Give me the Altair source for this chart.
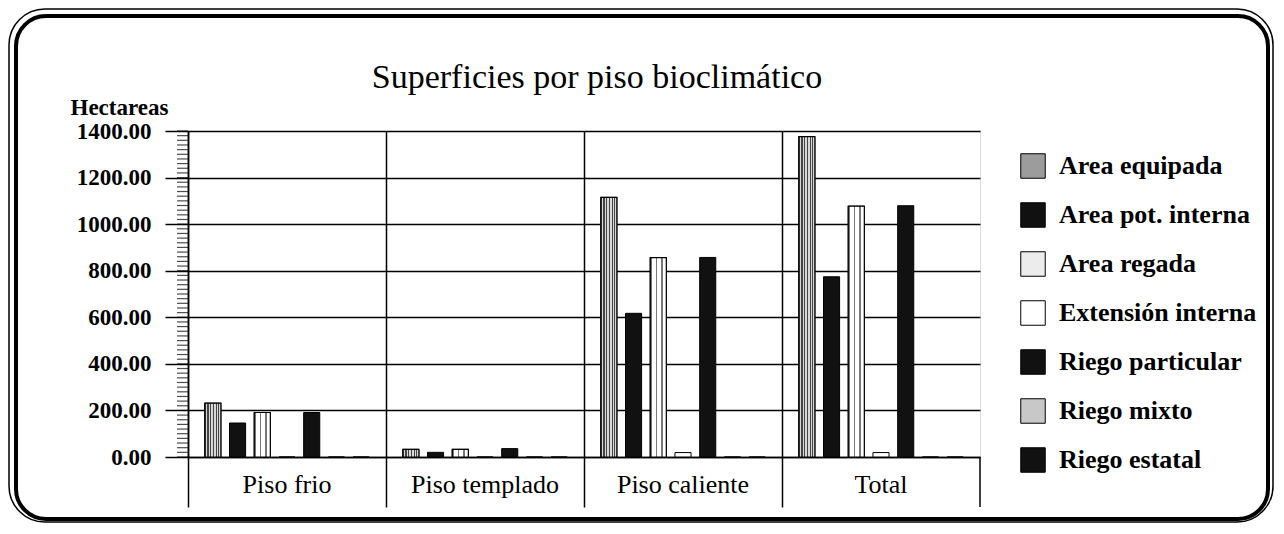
import altair as alt
import pandas as pd

# ---------------- data ----------------
grupos = ["Piso frio", "Piso templado", "Piso caliente", "Total"]
series = ["Area equipada", "Area pot. interna", "Area regada", "Extensión interna",
          "Riego particular", "Riego mixto", "Riego estatal"]
area_equipada = [231, 33, 1115, 1376]
area_pot_interna = [146, 20, 617, 774]
area_regada = [191, 33, 856, 1077]
extension_interna = [0, 0, 19, 19]
riego_particular = [191, 36, 857, 1079]
riego_mixto = [0, 0, 0, 0]
riego_estatal = [0, 0, 0, 0]
y_ticks = [0, 200, 400, 600, 800, 1000, 1200, 1400]
minor_ticks = list(range(0, 1401, 20))
fills = ["#9c9c9c", "#111111", "#ececec", "#ffffff", "#111111", "#c8c8c8", "#111111"]
titulo = "Superficies por piso bioclimático"

valores = [area_equipada, area_pot_interna, area_regada, extension_interna,
           riego_particular, riego_mixto, riego_estatal]
rows = []
for s, vals in zip(series, valores):
    for g, v in zip(grupos, vals):
        rows.append({"grupo": g, "serie": s, "valor": v})
df = pd.DataFrame(rows)

FONT = "Liberation Serif"
W, H = 792, 326

x_enc = alt.X("grupo:N", sort=grupos,
              scale=alt.Scale(paddingInner=0, paddingOuter=0),
              axis=alt.Axis(title=None, bandPosition=0, grid=True, gridColor="black",
                            gridWidth=1.5, gridOpacity=1, ticks=True, tickSize=50,
                            tickColor="black", tickWidth=1.5,
                            labelPadding=-36, labelAngle=0, labelFont=FONT,
                            labelFontSize=26, labelColor="black", domainColor="black",
                            domainWidth=1.5))
xo_enc = alt.XOffset("serie:N", sort=series,
                     scale=alt.Scale(domain=series, paddingInner=0.35, paddingOuter=0.68))
y_axis = alt.Axis(title="Hectareas", titleAngle=0, titleX=-118, titleY=-17,
                  titleAlign="left", titleBaseline="alphabetic", titleFont=FONT,
                  titleFontSize=23, titleFontWeight="bold", titleColor="black",
                  format=".2f", values=y_ticks, tickSize=23, tickWidth=1.5,
                  tickColor="black", labelPadding=14, labelFont=FONT,
                  labelFontSize=23, labelFontWeight="bold", labelColor="black",
                  grid=True, gridColor="black", gridWidth=1.3, gridOpacity=1,
                  domainColor="black", domainWidth=1.5)
y_enc = alt.Y("valor:Q", scale=alt.Scale(domain=[0, 1400], nice=False), axis=y_axis)

base = alt.Chart(df)

bars = base.mark_bar(stroke="black", strokeWidth=1).encode(
    x=x_enc, xOffset=xo_enc, y=y_enc,
    fill=alt.Fill("serie:N", sort=series,
                  scale=alt.Scale(domain=series, range=fills),
                  legend=alt.Legend(title=None, orient="none", legendX=832, legendY=22,
                                    symbolType="square", symbolSize=600,
                                    symbolStrokeColor="black", symbolStrokeWidth=1,
                                    symbolOpacity=1, labelFont=FONT, labelFontSize=26,
                                    labelFontWeight="bold", labelColor="black",
                                    labelOffset=13, rowPadding=19, labelLimit=300)),
)


def stripes(dark, light, n, width_frac):
    stops = []
    for i in range(n):
        a = i / n
        b = a + width_frac / n
        stops += [{"offset": a, "color": light}, {"offset": a, "color": dark},
                  {"offset": b, "color": dark}, {"offset": b, "color": light}]
    stops.append({"offset": 1, "color": light})
    return {"gradient": "linear", "x1": 0, "x2": 1, "y1": 0, "y2": 0, "stops": stops}


equip_overlay = base.transform_filter(alt.datum.serie == "Area equipada").mark_bar(
    fill=stripes("#444444", "#d8d8d8", 6, 0.45), stroke="black", strokeWidth=1.2
).encode(x=x_enc, xOffset=xo_enc, y=y_enc)

regada_overlay = base.transform_filter(alt.datum.serie == "Area regada").mark_bar(
    fill=stripes("#777777", "#ffffff", 3, 0.3), stroke="black", strokeWidth=1.2
).encode(x=x_enc, xOffset=xo_enc, y=y_enc)

minor = alt.Chart(pd.DataFrame({"valor": minor_ticks})).mark_tick(
    orient="horizontal", size=11, thickness=1.2, color="black"
).encode(x=alt.value(-5.5), y=y_enc)

one = alt.Chart(pd.DataFrame({"k": [0]}))
end_rule = one.mark_rule(color="black", strokeWidth=1.5).encode(
    x=alt.value(W), y=alt.value(H), y2=alt.value(H + 50))

title_mark = one.mark_text(text=titulo, font=FONT, fontSize=34, color="black",
                           align="center", baseline="alphabetic").encode(
    x=alt.value(409), y=alt.value(-43))

frame_outer = one.mark_rect(fill="transparent", stroke="black", strokeWidth=1.5,
                            cornerRadius=36).encode(
    x=alt.value(-179), x2=alt.value(1085), y=alt.value(-122), y2=alt.value(391))
frame_inner = one.mark_rect(fill="transparent", stroke="black", strokeWidth=4,
                            cornerRadius=30).encode(
    x=alt.value(-172), x2=alt.value(1080), y=alt.value(-115), y2=alt.value(388))

chart = alt.layer(frame_outer, frame_inner, bars, equip_overlay, regada_overlay,
                  minor, end_rule, title_mark).properties(
    width=W, height=H, padding=0,
).configure_view(stroke="black", strokeWidth=1.5).configure(background="white")

chart.save("out.html", embed_options={"renderer": "svg", "actions": False})
